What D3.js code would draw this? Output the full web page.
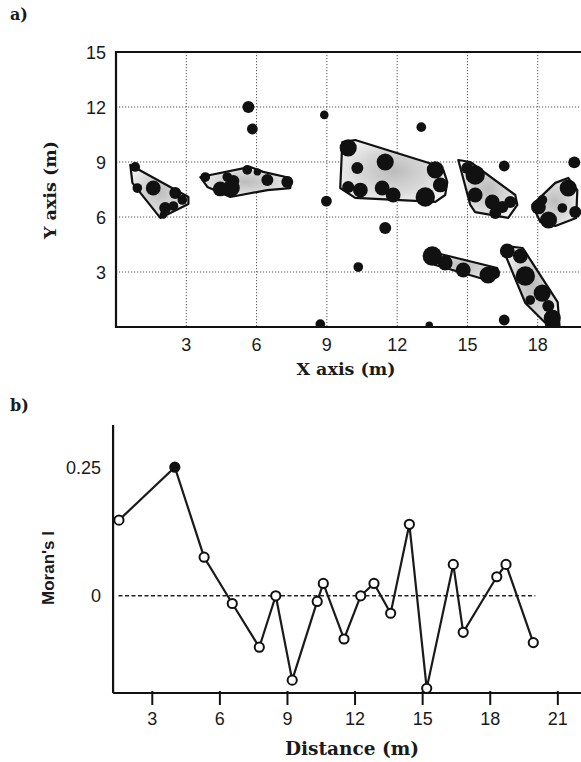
<!DOCTYPE html>
<html>
<head>
<meta charset="utf-8">
<script src="https://cdn.jsdelivr.net/npm/d3@7"></script>
<style>
html,body{margin:0;padding:0;background:#fff;}
svg{display:block;}
</style>
</head>
<body>
<svg id="chart" width="581" height="762"></svg>
<script>
// ---------- Panel a data ----------
const mapXTicks = [3, 6, 9, 12, 15, 18];
const mapYTicks = [3, 6, 9, 12, 15];
// cluster hulls: [x, y] in metres
const hull1 = [[0.61,8.84],[3.09,7.09],[3.09,6.71],[1.89,5.95],[0.70,7.86]];
const hull2 = [[3.60,8.18],[5.73,8.73],[6.28,8.46],[7.44,8.13],[7.44,7.58],[6.46,7.47],[4.88,7.09],[3.90,7.64]];
const hull3 = [[9.66,10.09],[10.21,10.2],[13.63,8.84],[13.97,8.57],[14.14,7.91],[14.05,7.2],[13.63,6.82],[10.21,7.04],[9.57,7.58]];
const hull4 = [[14.61,9.11],[15.12,9.0],[17.04,7.2],[17.13,6.66],[16.74,5.95],[15.33,6.27],[15.12,6.66]];
const hull5 = [[17.77,6.66],[18.75,7.86],[19.3,8.13],[19.69,7.47],[19.64,5.95],[18.75,5.51],[18.11,5.73]];
const hull6 = [[13.33,4.15],[13.84,3.98],[16.27,3.22],[16.32,2.78],[15.97,2.51],[13.63,3.38],[13.2,3.76]];
const hull7 = [[16.55,4.42],[17.36,4.31],[18.85,1.36],[18.93,0.05],[18.46,0.05],[17.47,1.31],[16.58,4.04]];
const hulls = [hull1, hull2, hull3, hull4, hull5, hull6, hull7];
// plants: [x, y, radius] in metres
const plantsInClusters = [
  [0.82,8.73,.17],[0.91,7.58,.17],[1.59,7.58,.26],[2.53,7.31,.21],[2.83,6.93,.17],[2.10,6.49,.21],[2.45,6.60,.17],[2.02,6.11,.13],
  [3.81,8.18,.17],[4.75,8.18,.17],[5.01,7.97,.21],[4.45,7.53,.26],[4.92,7.58,.3],[5.6,8.57,.17],[6.46,8.02,.21],[7.31,7.91,.21],[6.03,8.46,.13],
  [9.91,9.77,.3],[11.49,9.0,.3],[10.3,8.67,.21],[9.91,7.64,.21],[10.43,7.47,.26],[11.36,7.58,.26],[11.83,7.2,.26],[13.2,7.09,.34],[13.63,8.57,.3],[13.84,7.75,.26],
  [15.33,8.29,.34],[14.99,8.67,.21],[15.33,7.2,.26],[16.06,6.82,.26],[16.83,6.82,.21],[16.49,6.55,.21],[16.19,6.22,.21],
  [19.3,7.58,.3],[18.03,6.55,.26],[18.46,5.84,.3],[19.05,6.49,.17],[19.6,6.27,.21],[18.2,6.93,.17],
  [13.5,3.87,.34],[14.05,3.49,.26],[14.82,3.11,.26],[15.88,2.84,.3],[16.14,2.95,.21],
  [16.7,4.15,.26],[17.26,3.87,.26],[17.47,2.78,.34],[18.19,1.85,.3],[17.68,1.47,.17],[18.45,1.15,.21],[18.62,0.49,.3],[18.62,0.11,.26]
];
const plantsIsolated = [
  [5.65,12.0,.21],[5.82,10.8,.19],[8.89,11.57,.15],[13.03,10.9,.17],[16.57,8.78,.19],[19.56,8.98,.21],
  [8.98,6.87,.19],[8.72,0.16,.17],[11.49,5.4,.21],[10.34,3.27,.17],[13.37,0.1,.13],[16.57,0.38,.19]
];

// ---------- Panel b data ----------
const distance = [1.52,4.0,5.3,6.55,7.75,8.48,9.21,10.32,10.59,11.51,12.25,12.84,13.58,14.41,15.18,16.36,16.8,18.29,18.7,19.91];
const moranI   = [0.147,0.25,0.075,-0.015,-0.1,0.0,-0.164,-0.011,0.024,-0.084,0.0,0.024,-0.034,0.139,-0.18,0.061,-0.071,0.037,0.061,-0.091];
const significant = [false,true,false,false,false,false,false,false,false,false,false,false,false,false,false,false,false,false,false,false];
const distTicks = [3, 6, 9, 12, 15, 18, 21];
const moranTicks = [0, 0.25];

const svg = d3.select("#chart");
const serif = "'DejaVu Serif',serif";
const sans = "'Liberation Sans',Arial,Helvetica,sans-serif";

// ================= Panel a =================
const ax = d3.scaleLinear().domain([0, 20]).range([116, 584.6]);
const ay = d3.scaleLinear().domain([0, 15]).range([327, 52]);
const rs = d3.scaleLinear().domain([0, 1]).range([0, 28.5]);

const defs = svg.append("defs");
const grad = defs.append("radialGradient").attr("id", "hullGrad")
  .attr("cx", "50%").attr("cy", "50%").attr("r", "60%");
grad.append("stop").attr("offset", "0%").attr("stop-color", "#bcbcbc");
grad.append("stop").attr("offset", "55%").attr("stop-color", "#d8d8d8");
grad.append("stop").attr("offset", "100%").attr("stop-color", "#f5f5f5");

defs.append("clipPath").attr("id", "clipA").append("rect")
  .attr("x", ax(0)).attr("y", ay(15)).attr("width", ax(20) - ax(0)).attr("height", ay(0) - ay(15));

const gA = svg.append("g");
gA.append("g").selectAll("line").data(mapXTicks).join("line")
  .attr("x1", d => ax(d)).attr("x2", d => ax(d)).attr("y1", ay(15)).attr("y2", ay(0))
  .attr("stroke", "#555").attr("stroke-width", 1).attr("stroke-dasharray", "1.2,1.8");
gA.append("g").selectAll("line").data(mapYTicks.filter(d => d < 15)).join("line")
  .attr("y1", d => ay(d)).attr("y2", d => ay(d)).attr("x1", ax(0)).attr("x2", ax(20))
  .attr("stroke", "#555").attr("stroke-width", 1).attr("stroke-dasharray", "1.2,1.8");

const plot = gA.append("g").attr("clip-path", "url(#clipA)");
const line = d3.line().x(d => ax(d[0])).y(d => ay(d[1])).curve(d3.curveLinearClosed);
plot.selectAll("path.hull").data(hulls).join("path").attr("class", "hull")
  .attr("d", d => line(d)).attr("fill", "url(#hullGrad)")
  .attr("stroke", "#111").attr("stroke-width", 2.2).attr("stroke-linejoin", "round");
plot.selectAll("circle.pc").data(plantsInClusters).join("circle").attr("class", "pc")
  .attr("cx", d => ax(d[0])).attr("cy", d => ay(d[1])).attr("r", d => rs(d[2])).attr("fill", "#111");
plot.selectAll("circle.pi").data(plantsIsolated).join("circle").attr("class", "pi")
  .attr("cx", d => ax(d[0])).attr("cy", d => ay(d[1])).attr("r", d => rs(d[2])).attr("fill", "#111");

gA.append("path")
  .attr("d", `M${ax(20)},${ay(15)} L${ax(0)},${ay(15)} L${ax(0)},${ay(0)} L${ax(20)},${ay(0)}`)
  .attr("fill", "none").attr("stroke", "#111").attr("stroke-width", 2.2);

gA.append("g").selectAll("text").data(mapXTicks).join("text")
  .attr("x", d => ax(d)).attr("y", 351).attr("text-anchor", "middle")
  .attr("font-family", sans).attr("font-size", 18).attr("fill", "#1a1a1a").text(d => d);
gA.append("g").selectAll("text").data(mapYTicks).join("text")
  .attr("x", 106).attr("y", d => ay(d) + 6.5).attr("text-anchor", "end")
  .attr("font-family", sans).attr("font-size", 18).attr("fill", "#1a1a1a").text(d => d);

svg.append("text").attr("x", 346).attr("y", 375).attr("text-anchor", "middle")
  .attr("font-family", serif).attr("font-weight", "bold").attr("font-size", 17.5).attr("fill", "#1a1a1a")
  .text("X axis (m)");
svg.append("text").attr("transform", "translate(56,190) rotate(-90)").attr("text-anchor", "middle")
  .attr("font-family", serif).attr("font-weight", "bold").attr("font-size", 17.5).attr("fill", "#1a1a1a")
  .text("Y axis (m)");
svg.append("text").attr("x", 10).attr("y", 20)
  .attr("font-family", serif).attr("font-weight", "bold").attr("font-size", 16).attr("fill", "#1a1a1a").text("a)");

// ================= Panel b =================
const bx = d3.scaleLinear().domain([0, 22]).range([84.7, 84.7 + 22 * 22.53]);
const by = d3.scaleLinear().domain([-0.189, 0.332]).range([693, 425]);

const gB = svg.append("g");
gB.append("line").attr("x1", bx(1.26)).attr("x2", 581).attr("y1", by(-0.189)).attr("y2", by(-0.189))
  .attr("stroke", "#111").attr("stroke-width", 2.2);
gB.append("line").attr("x1", bx(1.26)).attr("x2", bx(1.26)).attr("y1", by(-0.189)).attr("y2", by(0.332))
  .attr("stroke", "#111").attr("stroke-width", 2.2);
gB.append("g").selectAll("line").data(distTicks).join("line")
  .attr("x1", d => bx(d)).attr("x2", d => bx(d)).attr("y1", by(-0.189) - 2).attr("y2", by(-0.189) + 12)
  .attr("stroke", "#111").attr("stroke-width", 2);
gB.append("g").selectAll("text").data(distTicks).join("text")
  .attr("x", d => bx(d)).attr("y", 725).attr("text-anchor", "middle")
  .attr("font-family", sans).attr("font-size", 18).attr("fill", "#1a1a1a").text(d => d);
gB.append("g").selectAll("text").data(moranTicks).join("text")
  .attr("x", 101).attr("y", d => by(d) + 6.5).attr("text-anchor", "end")
  .attr("font-family", sans).attr("font-size", 18).attr("fill", "#1a1a1a").text(d => d);

gB.append("line").attr("x1", bx(1.5)).attr("x2", bx(20)).attr("y1", by(0)).attr("y2", by(0))
  .attr("stroke", "#222").attr("stroke-width", 1.6).attr("stroke-dasharray", "4,2.5");

const pts = distance.map((d, i) => ({x: d, y: moranI[i], s: significant[i]}));
gB.append("path").datum(pts)
  .attr("d", d3.line().x(d => bx(d.x)).y(d => by(d.y)))
  .attr("fill", "none").attr("stroke", "#1a1a1a").attr("stroke-width", 2.2);
gB.selectAll("circle").data(pts).join("circle")
  .attr("cx", d => bx(d.x)).attr("cy", d => by(d.y)).attr("r", 4.6)
  .attr("fill", d => d.s ? "#111" : "#fff").attr("stroke", "#111").attr("stroke-width", 2);

svg.append("text").attr("x", 352).attr("y", 755).attr("text-anchor", "middle")
  .attr("font-family", serif).attr("font-weight", "bold").attr("font-size", 18.5).attr("fill", "#1a1a1a")
  .text("Distance (m)");
svg.append("text").attr("transform", "translate(54,568) rotate(-90)").attr("text-anchor", "middle")
  .attr("font-family", sans).attr("font-weight", "bold").attr("font-size", 17).attr("fill", "#1a1a1a")
  .text("Moran's I");
svg.append("text").attr("x", 10).attr("y", 411)
  .attr("font-family", serif).attr("font-weight", "bold").attr("font-size", 16).attr("fill", "#1a1a1a").text("b)");
</script>
</body>
</html>
